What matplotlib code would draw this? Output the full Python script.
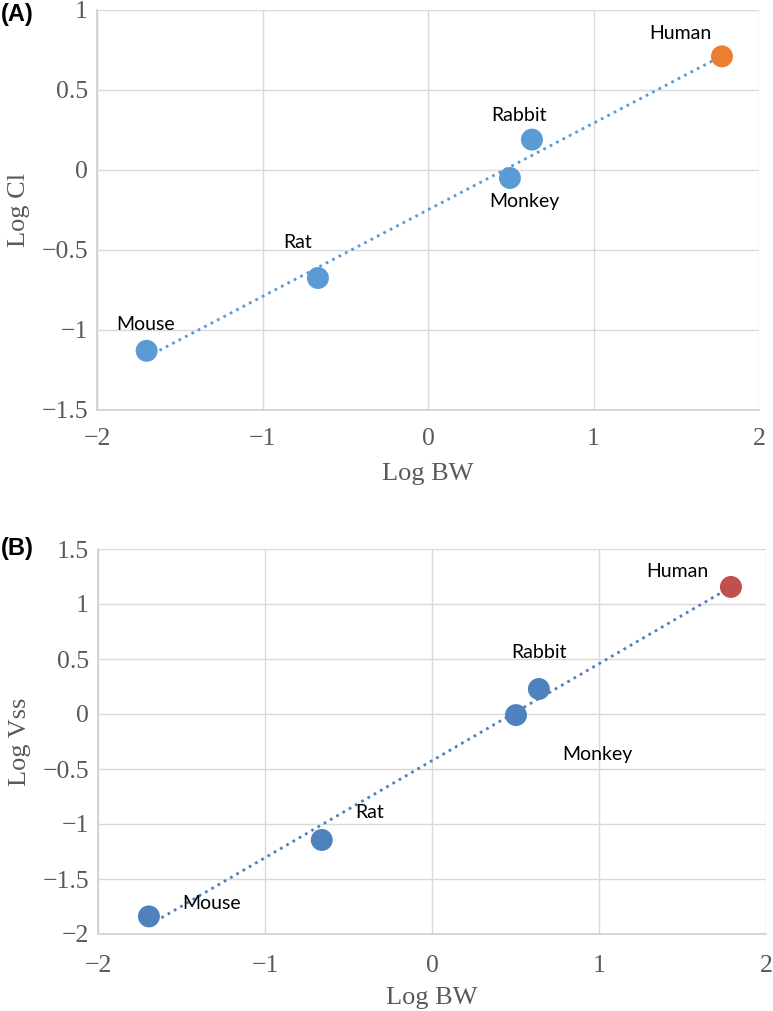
import numpy as np
import matplotlib
matplotlib.use("Agg")
import matplotlib.pyplot as plt

# ---- data ----
species = ["Mouse", "Rat", "Monkey", "Rabbit", "Human"]
log_bw = [-1.70, -0.665, 0.495, 0.628, 1.776]
log_cl = [-1.13, -0.675, -0.05, 0.19, 0.71]
log_bw_b = [-1.695, -0.66, 0.503, 0.64, 1.79]
log_vss = [-1.84, -1.145, -0.01, 0.227, 1.155]
x_ticks = [-2, -1, 0, 1, 2]
y_ticks_a = [-1.5, -1, -0.5, 0, 0.5, 1]
y_ticks_b = [-2, -1.5, -1, -0.5, 0, 0.5, 1, 1.5]

# label offsets in pixels (dx right, dy up)
offs_a = [(-1, 26), (-20, 35), (14, -24), (-13, 24), (-42, 23)]
offs_b = [(63, 13), (48, 27), (81, -39), (0, 37), (-54, 15)]

W, H = 773, 1011
fig = plt.figure(figsize=(W / 100, H / 100), dpi=100)

def fmt(v):
    s = ("%g" % v)
    return s.replace("-", "\u2212")

def panel(rect, x, y, ylim, yticks, ylabel, c_main, c_human, offs, tag, tag_y, xpad, xlpad):
    ax = fig.add_axes(rect)
    ax.set_xlim(-2, 2)
    ax.set_ylim(*ylim)
    ax.set_xticks(x_ticks)
    ax.set_yticks(yticks)
    ax.set_xticklabels([fmt(v) for v in x_ticks])
    ax.set_yticklabels([fmt(v) for v in yticks])
    ax.grid(True, color="#D9D9D9", linewidth=1.0, zorder=0)
    ax.set_axisbelow(True)
    for s in ["top", "right"]:
        ax.spines[s].set_visible(False)
    for s in ["left", "bottom"]:
        ax.spines[s].set_color("#D0D0D0")
        ax.spines[s].set_linewidth(1.2)
    ax.tick_params(length=0, labelsize=18.5, colors="#595959")
    ax.tick_params(axis="x", pad=xpad)
    ax.tick_params(axis="y", pad=6.5)
    for lab in ax.get_xticklabels() + ax.get_yticklabels():
        lab.set_family("Liberation Serif")
    ax.set_xlabel("Log BW", family="Liberation Serif", fontsize=19, color="#595959", labelpad=xlpad)
    ax.set_ylabel(ylabel, family="Liberation Serif", fontsize=19, color="#595959", labelpad=8)

    xa = np.array(x); ya = np.array(y)
    k, b = np.polyfit(xa, ya, 1)
    xx = np.array([xa.min(), xa.max()])
    ax.plot(xx, k * xx + b, linestyle=(0, (1, 1.6)), color=c_main, linewidth=2.0, zorder=2)
    cols = [c_main] * (len(x) - 1) + [c_human]
    ax.scatter(x, y, s=250, color=cols, zorder=3, edgecolors="none")
    for name, xi, yi, (dx, dy) in zip(species, x, y, offs):
        ax.annotate(name, (xi, yi), xytext=(dx * 0.72, dy * 0.72), textcoords="offset points",
                    ha="center", va="center", fontsize=14, family="Lato", color="black")
    fig.text(1 / W, 1 - tag_y / H, tag, fontsize=17, fontweight="bold",
             family="Liberation Sans", ha="left", va="center")
    return ax

panel([97 / W, 1 - 410 / H, (759 - 97) / W, 400 / H], log_bw, log_cl, (-1.5, 1), y_ticks_a,
      "Log Cl", "#5B9BD5", "#ED7D31", offs_a, "(A)", 15, 13, 9)
panel([98 / W, 1 - 934 / H, (766 - 98) / W, 385 / H], log_bw_b, log_vss, (-2, 1.5), y_ticks_b,
      "Log Vss", "#4F81BD", "#C0504D", offs_b, "(B)", 548, 15, 7)

fig.savefig("out.png", dpi=100)
